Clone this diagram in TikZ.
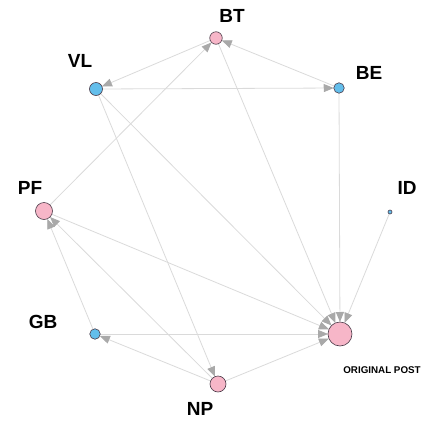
\documentclass[tikz,border=0pt]{standalone}
\usepackage{fontspec}
\setmainfont{Liberation Sans}
\usetikzlibrary{arrows.meta,backgrounds}
\definecolor{pinknode}{HTML}{F7B6C8}
\definecolor{bluenode}{HTML}{63BEEB}
\definecolor{edgegray}{HTML}{DADADA}
\definecolor{tipgray}{HTML}{A9A9A9}
\definecolor{rimdark}{HTML}{4A3A48}
\begin{document}
\begin{tikzpicture}[x=1pt,y=-1pt,
  vert/.style={circle,draw=rimdark,line width=0.6pt,inner sep=0pt,outer sep=0pt},
  pinkv/.style={vert,fill=pinknode},
  bluev/.style={vert,fill=bluenode},
  lab/.style={font=\bfseries\fontsize{19}{19}\selectfont,inner sep=0pt},
  smalllab/.style={font=\bfseries\fontsize{9.8}{9.8}\selectfont,inner sep=0pt},
  link/.style={draw=edgegray,line width=0.8pt,
    -{Triangle[length=10pt,width=8pt,color=tipgray]}}
]
\useasboundingbox (0,0) rectangle (424,421);

% vertices
\node[pinkv,minimum size=12.5pt] (BT) at (216,38) {};
\node[bluev,minimum size=13pt]   (VL) at (96,89) {};
\node[bluev,minimum size=10.5pt] (BE) at (339,88) {};
\node[pinkv,minimum size=17pt]   (PF) at (44,211) {};
\node[bluev,minimum size=4pt]    (ID) at (390,212) {};
\node[bluev,minimum size=10.5pt] (GB) at (95,334) {};
\node[pinkv,minimum size=24pt]   (OP) at (340,334) {};
\node[pinkv,minimum size=16pt]   (NP) at (218,384) {};

% labels
\node[lab] (tBT) at (232,16) {BT};
\node[lab] (tVL) at (80,61) {VL};
\node[lab] (tBE) at (369,73) {BE};
\node[lab] (tPF) at (30,188) {PF};
\node[lab] (tID) at (407,188) {ID};
\node[lab] (tGB) at (43,322) {GB};
\node[lab] (tNP) at (200,409) {NP};
\node[smalllab] (tOP) at (382,370) {ORIGINAL POST};

% connectors, kept behind the vertices
\begin{pgfonlayer}{background}
\draw[link] (BT) -- (VL);
\draw[link] (BE) -- (BT);
\draw[link] (PF) -- (BT);
\draw[link] (VL) -- (BE);
\draw[link] (VL) -- (NP);
\draw[link] (VL) -- (OP);
\draw[link] (BT) -- (OP);
\draw[link] (BE) -- (OP);
\draw[link] (ID) -- (OP);
\draw[link] (PF) -- (OP);
\draw[link] (GB) -- (OP);
\draw[link] (NP) -- (OP);
\draw[link] (NP) -- (GB);
\draw[link] (GB) -- (PF);
\draw[link] (NP) -- (PF);
\end{pgfonlayer}
\end{tikzpicture}
\end{document}
